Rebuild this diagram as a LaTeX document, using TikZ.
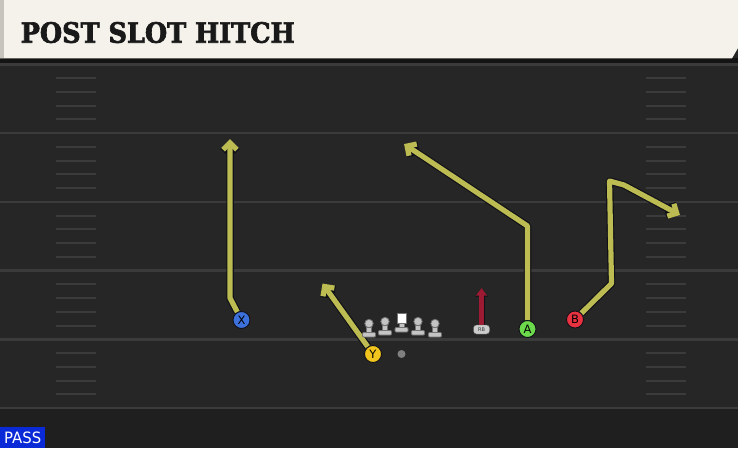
\documentclass[tikz,border=0pt]{standalone}
\usepackage{fontspec}
\setsansfont{DejaVu Sans}
\newfontfamily\titlefont[FakeBold=2.5]{DejaVu Serif}
\newfontfamily\passfont{DejaVu Sans}
\usetikzlibrary{arrows.meta}
\pgfdeclarelayer{bg}
\pgfdeclarelayer{routes}
\pgfsetlayers{bg,routes,main}
\definecolor{fieldc}{HTML}{262626}
\definecolor{fieldlow}{HTML}{1F1F1F}
\definecolor{linec}{HTML}{3B3B3B}
\definecolor{headc}{HTML}{F4F2EB}
\definecolor{headedge}{HTML}{C6C4BD}
\definecolor{routec}{HTML}{BCBC52}
\definecolor{outc}{HTML}{101018}
\definecolor{xblue}{HTML}{3C70DA}
\definecolor{yyellow}{HTML}{F2C41E}
\definecolor{agreen}{HTML}{6CD84C}
\definecolor{bred}{HTML}{E8323F}
\definecolor{rbred}{HTML}{9C1A32}
\definecolor{passblue}{HTML}{0A2AD8}
\definecolor{linemanc}{HTML}{C4C4C4}
\tikzset{
  player/.style={circle, draw=outc, line width=0.9pt, minimum size=17pt, inner sep=0pt,
    font=\sffamily\fontsize{11.5}{11.5}\selectfont, text=black},
  routeout/.style={draw=outc, line width=7.5pt, line join=round,
    -{Straight Barb[length=7pt,width=14pt,line join=miter]}},
  routein/.style={draw=routec, line width=5.2pt, line join=round,
    -{Straight Barb[length=7pt,width=14pt,line join=miter]}},
  rbout/.style={draw=outc, line width=6pt, -{Triangle[length=8.5pt,width=12pt]}},
  rbin/.style={draw=rbred, fill=rbred, line width=4.3pt, -{Triangle[length=7.5pt,width=10.5pt]}},
  yardline/.style={draw=linec, line width=2.5pt},
  hashmark/.style={draw=linec, line width=2pt},
  pics/lineman/.style={code={
    \draw[draw=black!55, fill=linemanc, line width=0.8pt, rounded corners=1pt] (-6.5,0) rectangle (6.5,-4.5);
    \draw[draw=black!55, fill=linemanc, line width=0.8pt] (-2.5,-4.5) rectangle (2.5,-10);
    \draw[draw=black!55, fill=linemanc, line width=0.8pt] (0,-13.5) circle (4.2);
  }},
  pics/centerman/.style={code={
    \draw[draw=black!55, fill=linemanc, line width=0.8pt, rounded corners=1pt] (-6.5,0) rectangle (6.5,-4.5);
    \draw[draw=black!55, fill=linemanc, line width=0.8pt] (-2.5,-4.5) rectangle (2.5,-9);
    \draw[draw=black!55, fill=white, line width=0.8pt] (-4.5,-9) rectangle (4.5,-19);
  }}
}
\newcommand\playroutes[1]{%
  \draw[#1] (X) -- (xt1) -- (xe);
  \draw[#1] (Y) -- (ye);
  \draw[#1] (A) -- (at1) -- (ae);
  \draw[#1] (B) -- (bt1) -- (bt2) -- (bt3) -- (be);
}
\begin{document}
\begin{tikzpicture}[x=1pt,y=-1pt]
\useasboundingbox (0,0) rectangle (738,448);
% field
\begin{pgfonlayer}{bg}
\fill[fieldc] (0,0) rectangle (738,448);
\fill[fieldlow] (0,408) rectangle (738,448);
\foreach \k in {0,...,5} {
  \draw[yardline] (0,64.5+68.7*\k) -- (738,64.5+68.7*\k);
}
\foreach \k in {0,...,4} {
  \foreach \j in {1,...,4} {
    \draw[hashmark] (56,64.5+68.7*\k+13.74*\j) -- (96,64.5+68.7*\k+13.74*\j);
    \draw[hashmark] (646,64.5+68.7*\k+13.74*\j) -- (686,64.5+68.7*\k+13.74*\j);
  }
}
% header
\fill[black!92] (0,58) rectangle (738,62.5);
\fill[headc] (0,0) -- (738,0) -- (738,48) -- (732,58.3) -- (0,58.3) -- cycle;
\fill[headedge] (0,0) rectangle (4,58.3);
\end{pgfonlayer}

\node[anchor=base west, inner sep=0pt, text=black!90] (title) at (20.5,42.7)
  {\resizebox{274pt}{20.7pt}{\titlefont\bfseries POST SLOT HITCH}};

% linemen
\pic at (369,337) {lineman};
\pic at (385,335) {lineman};
\pic at (401.5,332) {centerman};
\pic at (418,335) {lineman};
\pic at (435,337) {lineman};

% ball
\node[circle, fill=black!50, minimum size=8pt, inner sep=0pt] (ball) at (401.5,354) {};

% players
\node[player, fill=xblue] (X) at (241.5,320) {X};
\node[player, fill=yyellow] (Y) at (373,354) {Y};
\node[player, fill=agreen] (A) at (527.5,329) {A};
\node[player, fill=bred] (B) at (575,319.5) {B};
\node[rounded corners=3pt, draw=black!60, fill=black!20, minimum width=16pt, minimum height=9pt,
  inner sep=0pt, font=\sffamily\fontsize{5}{5}\selectfont, text=black!80] (RB) at (481.5,329.5) {RB};

% route points
\coordinate (xt1) at (230,298);
\coordinate (xe) at (230,139);
\coordinate (ye) at (322.5,283.5);
\coordinate (at1) at (527.5,226);
\coordinate (ae) at (404,144);
\coordinate (bt1) at (611.5,283.5);
\coordinate (bt2) at (609.5,181);
\coordinate (bt3) at (624,185);
\coordinate (be) at (680,215);
\coordinate (rbe) at (481.5,288);

\begin{pgfonlayer}{routes}
\playroutes{routeout}
\playroutes{routein}
\draw[rbout] (RB.north) -- (rbe);
\draw[rbin] (RB.north) -- (rbe);
\end{pgfonlayer}

% play type label
\node[anchor=south west, fill=passblue, minimum width=45pt, minimum height=20.5pt, inner sep=0pt,
  text=white] (pass) at (0,448) {\resizebox{37pt}{11.6pt}{\passfont PASS}};
\end{tikzpicture}
\end{document}
